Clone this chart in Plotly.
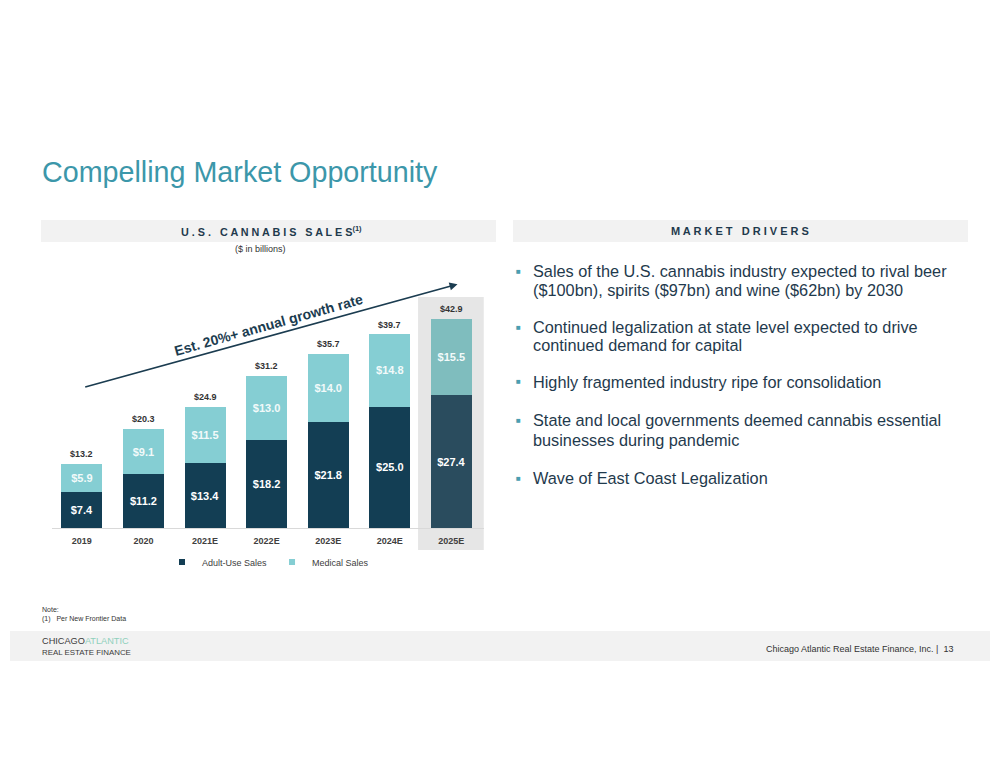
import plotly.graph_objects as go

# ---------------- data ----------------
years = ["2019", "2020", "2021E", "2022E", "2023E", "2024E", "2025E"]
adult_use = [7.4, 11.2, 13.4, 18.2, 21.8, 25.0, 27.4]
medical = [5.9, 9.1, 11.5, 13.0, 14.0, 14.8, 15.5]
totals = [13.2, 20.3, 24.9, 31.2, 35.7, 39.7, 42.9]

bullets = [
    ["Sales of the U.S. cannabis industry expected to rival beer",
     "($100bn), spirits ($97bn) and wine ($62bn) by 2030"],
    ["Continued legalization at state level expected to drive",
     "continued demand for capital"],
    ["Highly fragmented industry ripe for consolidation"],
    ["State and local governments deemed cannabis essential",
     "businesses during pandemic"],
    ["Wave of East Coast Legalization"],
]

FONT = "Liberation Sans, Arial, sans-serif"
W, H = 1000, 772
OFF = 8  # page body margin
NAVY = "#133E54"
TEAL = "#85CED3"
NAVY_HL = "#2A4C5E"
TEAL_HL = "#7FBDBE"


def px(x):
    return (x - OFF) / W


def py(y):
    return 1 - (y - OFF) / H


adult_colors = [NAVY] * (len(years) - 1) + [NAVY_HL]
med_colors = [TEAL] * (len(years) - 1) + [TEAL_HL]

fig = go.Figure()
fig.add_trace(go.Bar(
    x=years, y=adult_use, name="Adult-Use Sales", showlegend=False,
    marker=dict(color=adult_colors, line=dict(width=0)),
    text=[f"${v:.1f}" for v in adult_use], textposition="inside",
    insidetextanchor="middle", textangle=0,
    textfont=dict(family=FONT, size=11, color="white", weight="bold"),
    hoverinfo="skip",
))
fig.add_trace(go.Bar(
    x=years, y=medical, name="Medical Sales", showlegend=False,
    marker=dict(color=med_colors, line=dict(width=0)),
    text=[f"${v:.1f}" for v in medical], textposition="inside",
    insidetextanchor="middle", textangle=0,
    textfont=dict(family=FONT, size=11, color="#F2FAFA", weight="bold"),
    hoverinfo="skip",
))
# legend entries (small square markers like the reference)
fig.add_trace(go.Scatter(x=[None], y=[None], mode="markers", name="Adult-Use Sales",
                         marker=dict(symbol="square", size=6, color=NAVY)))
fig.add_trace(go.Scatter(x=[None], y=[None], mode="markers", name="Medical Sales",
                         marker=dict(symbol="square", size=6, color=TEAL)))

shapes = []
# highlight band behind 2025E
shapes.append(dict(type="rect", xref="x", yref="paper", x0=5.459, x1=6.526,
                   y0=py(550), y1=py(297), fillcolor="#E6E6E6",
                   line=dict(width=0), layer="below"))
# section header bands
shapes.append(dict(type="rect", xref="paper", yref="paper", x0=px(41), x1=px(496),
                   y0=py(242), y1=py(220), fillcolor="#F2F2F2", line=dict(width=0), layer="below"))
shapes.append(dict(type="rect", xref="paper", yref="paper", x0=px(513), x1=px(968),
                   y0=py(242), y1=py(220), fillcolor="#F2F2F2", line=dict(width=0), layer="below"))
# footer band
shapes.append(dict(type="rect", xref="paper", yref="paper", x0=px(10), x1=px(990),
                   y0=py(661), y1=py(631), fillcolor="#F2F2F2", line=dict(width=0), layer="below"))

ann = []
# totals above bars (x given as category index on the category axis)
for i, tot in enumerate(totals):
    ann.append(dict(text=f"${tot:.1f}", x=i, y=tot, xref="x", yref="y",
                    xanchor="center", yanchor="bottom", yshift=3, showarrow=False,
                    font=dict(family=FONT, size=9, color="#333333", weight="bold")))
# title
ann.append(dict(text="Compelling Market Opportunity", x=px(40), y=py(172), xref="paper", yref="paper",
                xanchor="left", yanchor="middle", showarrow=False,
                font=dict(family=FONT, size=28.7, color="#3C97AA")))
# headers
ann.append(dict(text="U . S .   C A N N A B I S   S A L E S<sup>(1)</sup>", x=px(271), y=py(231),
                xref="paper", yref="paper", xanchor="center", yanchor="middle", showarrow=False,
                font=dict(family=FONT, size=10.8, color="#1F3A4D", weight="bold")))
ann.append(dict(text="M A R K E T   D R I V E R S", x=px(740), y=py(231),
                xref="paper", yref="paper", xanchor="center", yanchor="middle", showarrow=False,
                font=dict(family=FONT, size=11, color="#1F3A4D", weight="bold")))
ann.append(dict(text="($ in billions)", x=px(260), y=py(249), xref="paper", yref="paper",
                xanchor="center", yanchor="middle", showarrow=False,
                font=dict(family=FONT, size=9, color="#333333")))
# growth arrow
ann.append(dict(text="", x=6.10, y=50.1, ax=0.03, ay=28.9, xref="x", yref="y",
                axref="x", ayref="y", showarrow=True, arrowhead=2, arrowsize=1,
                arrowwidth=1.6, arrowcolor="#1B3C50"))
ann.append(dict(text="Est. 20%+ annual growth rate", x=px(268), y=py(325), xref="paper", yref="paper",
                xanchor="center", yanchor="middle", showarrow=False, textangle=-15.6,
                font=dict(family=FONT, size=14, color="#1B3C50", weight="bold")))
# bullets
line_y = [[271, 290], [327, 345], [382], [420, 440], [478]]
for lines, ys in zip(bullets, line_y):
    ann.append(dict(text="■", x=px(518), y=py(ys[0]), xref="paper", yref="paper",
                    xanchor="center", yanchor="middle", showarrow=False,
                    font=dict(family=FONT, size=8, color="#4A9EB0")))
    for t, yy in zip(lines, ys):
        ann.append(dict(text=t, x=px(531), y=py(yy), xref="paper", yref="paper",
                        xanchor="left", yanchor="middle", showarrow=False,
                        font=dict(family=FONT, size=16.3, color="#1F3A4D")))
# notes
ann.append(dict(text="Note:", x=px(40), y=py(609), xref="paper", yref="paper",
                xanchor="left", yanchor="middle", showarrow=False,
                font=dict(family=FONT, size=7, color="#333333")))
ann.append(dict(text="(1)   Per New Frontier Data", x=px(40), y=py(619), xref="paper", yref="paper",
                xanchor="left", yanchor="middle", showarrow=False,
                font=dict(family=FONT, size=7, color="#333333")))
# footer
ann.append(dict(text="CHICAGO<span style='color:#8FD0BC'>ATLANTIC</span>", x=px(40), y=py(641),
                xref="paper", yref="paper", xanchor="left", yanchor="middle", showarrow=False,
                font=dict(family=FONT, size=9.2, color="#3B3B3B")))
ann.append(dict(text="REAL ESTATE FINANCE", x=px(40), y=py(652),
                xref="paper", yref="paper", xanchor="left", yanchor="middle", showarrow=False,
                font=dict(family=FONT, size=7.9, color="#3B3B3B")))
ann.append(dict(text="Chicago Atlantic Real Estate Finance, Inc. |  13", x=px(955), y=py(649),
                xref="paper", yref="paper", xanchor="right", yanchor="middle", showarrow=False,
                font=dict(family=FONT, size=9, color="#333333")))

fig.update_layout(
    width=W, height=H, barmode="stack", bargap=0.335,
    margin=dict(l=0, r=0, t=0, b=0),
    paper_bgcolor="white", plot_bgcolor="rgba(0,0,0,0)",
    font=dict(family=FONT),
    shapes=shapes, annotations=ann,
    legend=dict(orientation="h", x=px(268), y=py(562), xanchor="center", yanchor="middle",
                font=dict(family=FONT, size=9, color="#404040"), itemwidth=30,
                bgcolor="rgba(0,0,0,0)", traceorder="normal"),
    xaxis=dict(domain=[px(51.7), px(484)], range=[-0.49, 6.53], showgrid=False, zeroline=False,
               showline=True, linecolor="#D9D9D9", linewidth=1, ticks="", ticklabelstandoff=4,
               tickfont=dict(family=FONT, size=9, color="#404040", weight="bold")),
    yaxis=dict(domain=[py(528.3), py(250)], range=[0, 57.12], visible=False, fixedrange=True),
)

fig.write_html("out.html")
